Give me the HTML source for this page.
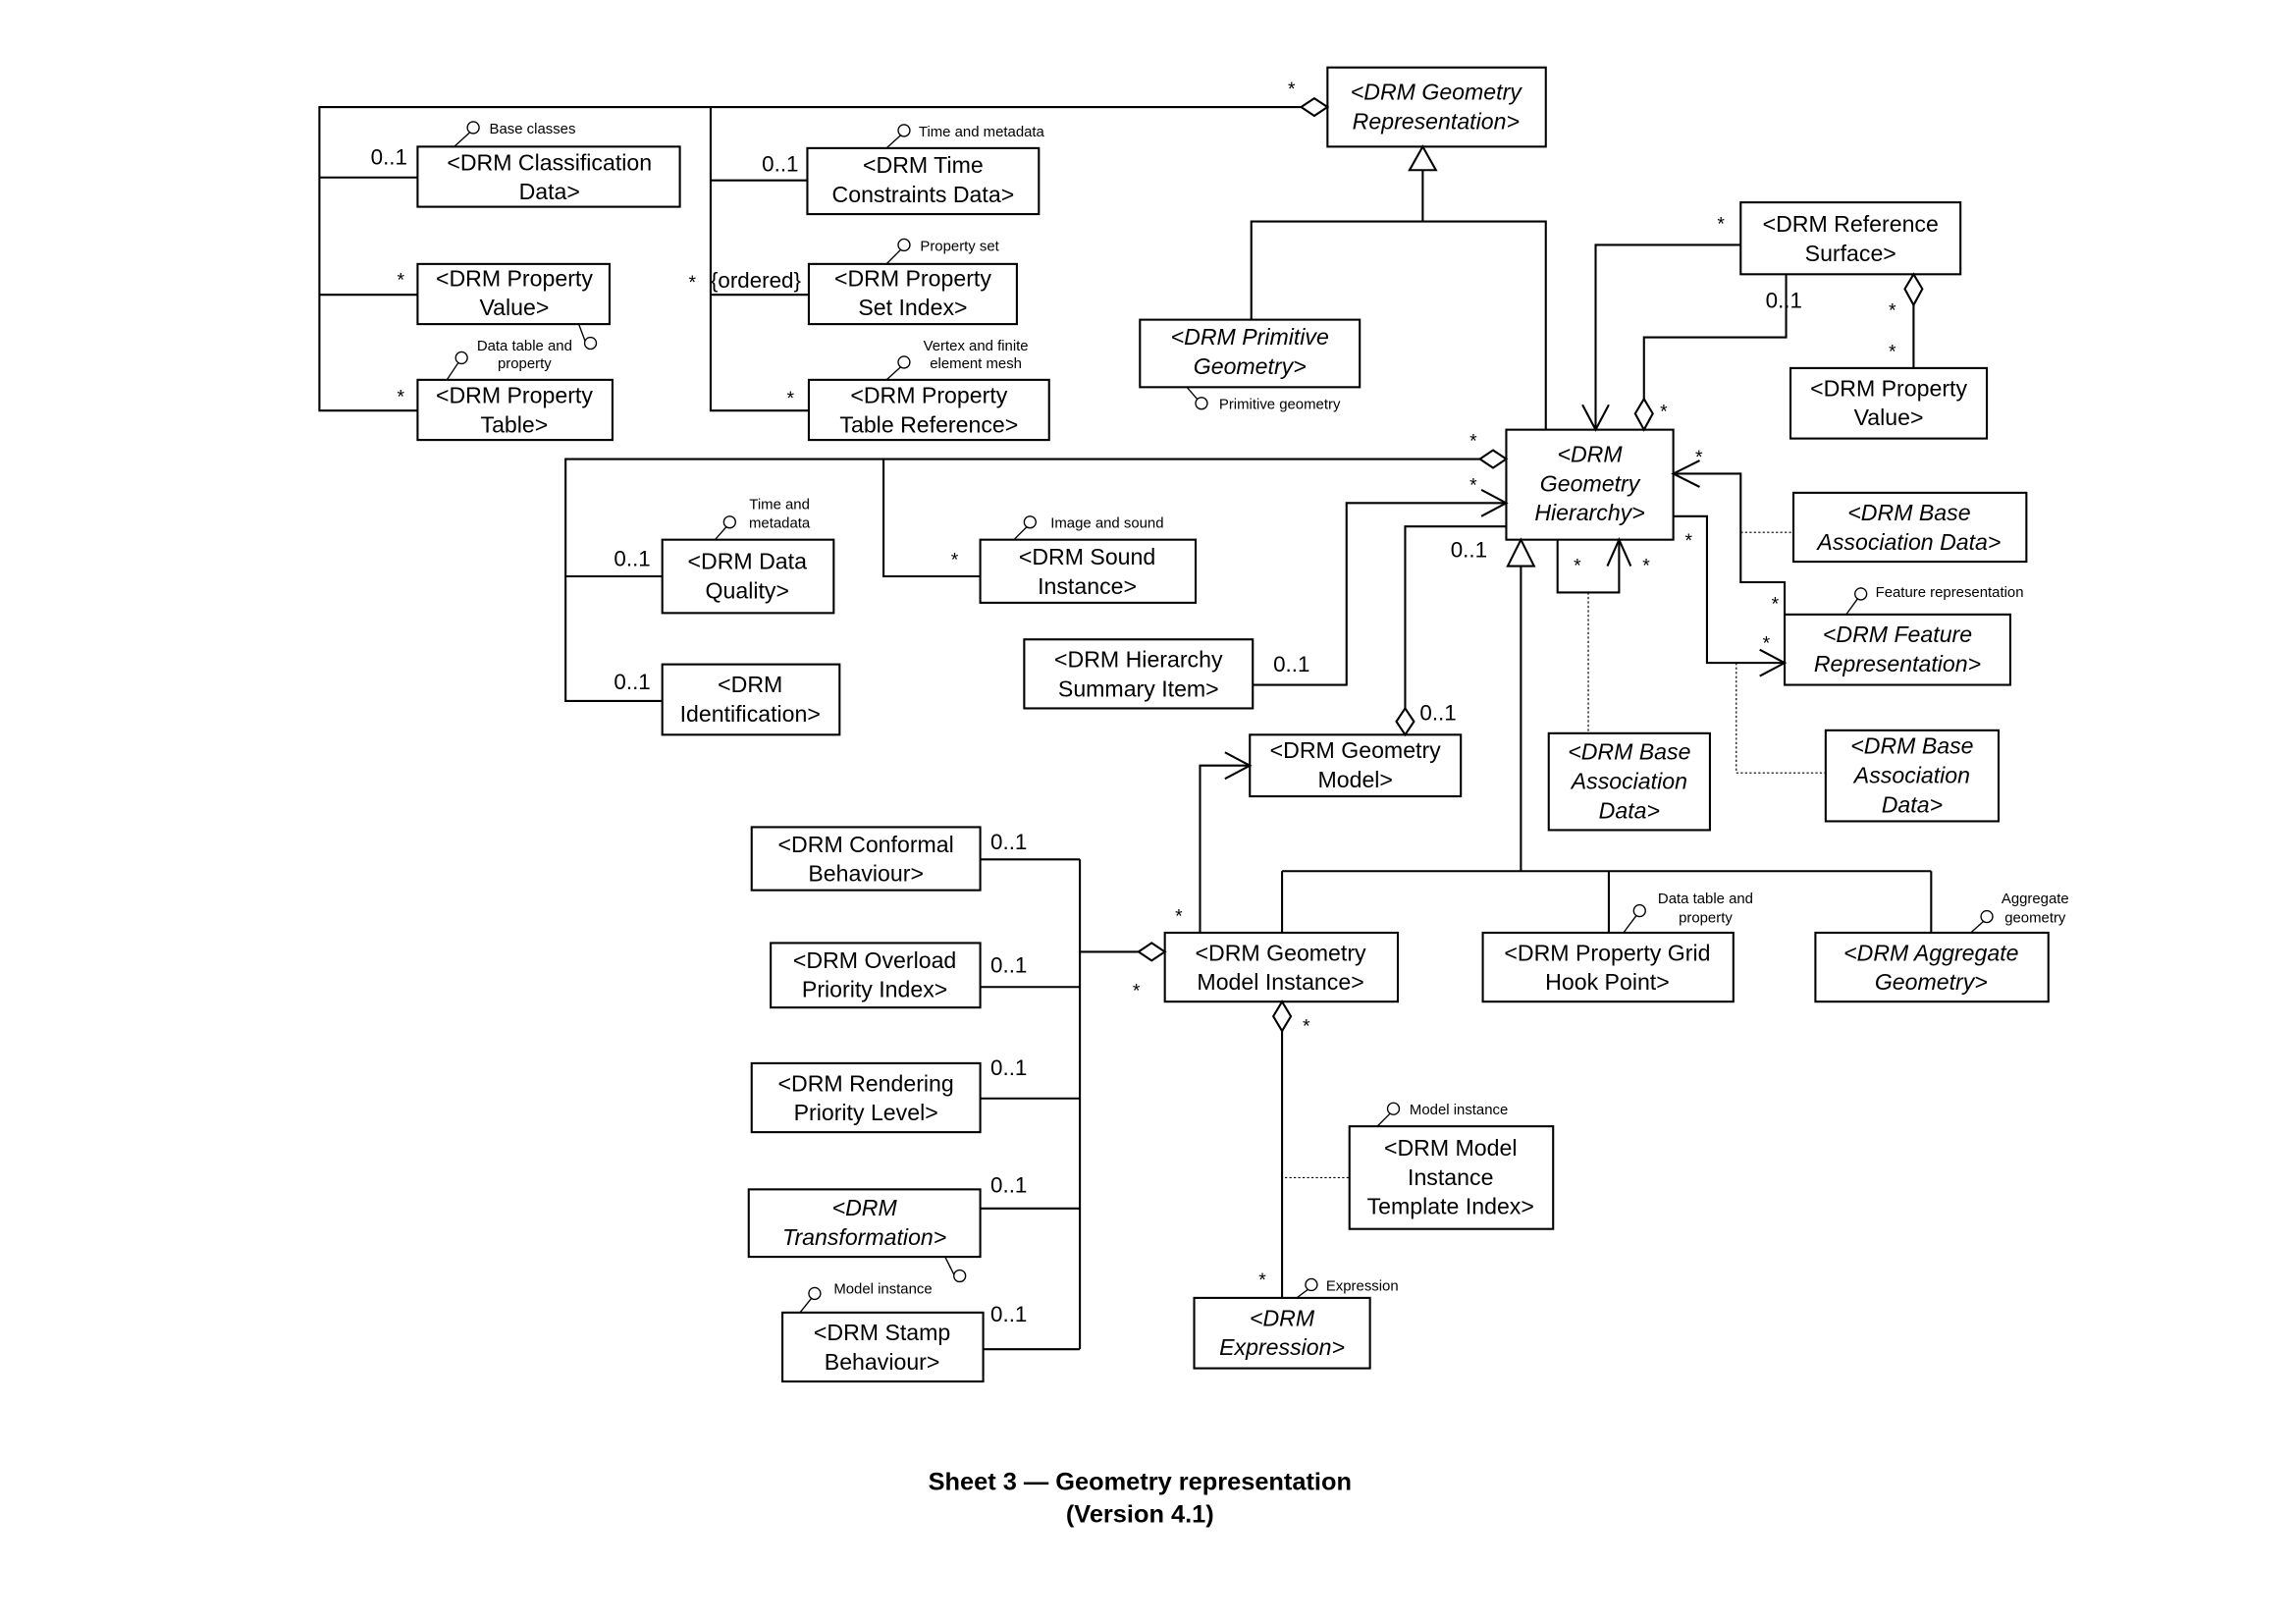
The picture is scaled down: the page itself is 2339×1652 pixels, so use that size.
<!DOCTYPE html>
<html><head><meta charset="utf-8"><style>
html,body{margin:0;padding:0;background:#fff}
svg{display:block}
text{font-family:"Liberation Sans",Arial,sans-serif;fill:#000}
.b{font-size:15.5px;text-anchor:middle}
.i{font-style:italic}
.s{font-size:10px}
.m{font-size:15px}
.ms{font-size:13px}
</style></head><body>
<svg width="2339" height="1652" viewBox="0 0 1567 1106" preserveAspectRatio="none" xmlns="http://www.w3.org/2000/svg">
<g fill="none" stroke="#000" stroke-width="1.4">
<rect x="906" y="46" width="149" height="54"/>
<rect x="285" y="100" width="179" height="41"/>
<rect x="285" y="180" width="131" height="41"/>
<rect x="285" y="259" width="133" height="41"/>
<rect x="551" y="101" width="158" height="45"/>
<rect x="552" y="180" width="142" height="41"/>
<rect x="552" y="259" width="164" height="41"/>
<rect x="778" y="218" width="150" height="46"/>
<rect x="1188" y="138" width="150" height="49"/>
<rect x="1222" y="251" width="134" height="48"/>
<rect x="1028" y="293" width="114" height="75"/>
<rect x="1224" y="336" width="159" height="47"/>
<rect x="1218" y="419" width="154" height="48"/>
<rect x="452" y="368" width="117" height="50"/>
<rect x="452" y="453" width="121" height="48"/>
<rect x="669" y="368" width="147" height="43"/>
<rect x="699" y="436" width="156" height="47"/>
<rect x="853" y="501" width="144" height="42"/>
<rect x="1057" y="500" width="110" height="66"/>
<rect x="1246" y="498" width="118" height="62"/>
<rect x="513" y="564" width="156" height="43"/>
<rect x="526" y="643" width="143" height="44"/>
<rect x="513" y="725" width="156" height="47"/>
<rect x="511" y="811" width="158" height="46"/>
<rect x="534" y="895" width="137" height="47"/>
<rect x="795" y="636" width="159" height="47"/>
<rect x="1012" y="636" width="171" height="47"/>
<rect x="1239" y="636" width="159" height="47"/>
<rect x="921" y="768" width="139" height="70"/>
<rect x="815" y="885" width="120" height="48"/>
<polyline points="888,73 218,73 218,280 285,280"/>
<line x1="218" y1="121" x2="285" y2="121"/>
<line x1="218" y1="201" x2="285" y2="201"/>
<polyline points="485,73 485,280 552,280"/>
<line x1="485" y1="123" x2="551" y2="123"/>
<line x1="485" y1="201" x2="552" y2="201"/>
<polygon points="906,73 897,67 888,73 897,79" fill="#fff"/>
<polygon points="971,100 962,116 980,116" fill="#fff"/>
<line x1="971" y1="116" x2="971" y2="151"/>
<polyline points="854,218 854,151 1055,151 1055,293"/>
<polyline points="1188,167 1089,167 1089,293"/>
<polyline points="1080,276 1089,293 1098,276"/>
<polyline points="1219,187 1219,230 1122,230 1122,272"/>
<polygon points="1122,293 1116,282 1122,272 1128,282" fill="#fff"/>
<polygon points="1306,187 1300,197 1306,208 1312,197" fill="#fff"/>
<line x1="1306" y1="208" x2="1306" y2="251"/>
<polyline points="1010,313 386,313 386,478 452,478"/>
<polygon points="1028,313 1019,307 1010,313 1019,319" fill="#fff"/>
<line x1="386" y1="393" x2="452" y2="393"/>
<polyline points="603,313 603,393 669,393"/>
<polyline points="855,467 919,467 919,343 1028,343"/>
<polyline points="1011,334 1028,343 1011,352"/>
<polyline points="959,483 959,359 1028,359"/>
<polygon points="959,501 953,492 959,483 965,492" fill="#fff"/>
<polygon points="1038,368 1029,386 1047,386" fill="#fff"/>
<polyline points="1038,386 1038,594"/>
<line x1="875" y1="594" x2="1318" y2="594"/>
<line x1="875" y1="594" x2="875" y2="636"/>
<line x1="1098" y1="594" x2="1098" y2="636"/>
<line x1="1318" y1="594" x2="1318" y2="636"/>
<polyline points="1063,368 1063,404 1105,404 1105,368"/>
<polyline points="1097,386 1105,368 1113,386"/>
<polyline points="1218,419 1218,397 1188,397 1188,323 1142,323"/>
<polyline points="1160,314 1142,323 1160,332"/>
<polyline points="1142,352 1165,352 1165,452 1218,452"/>
<polyline points="1201,443 1218,452 1201,461"/>
<polyline points="819,636 819,522 853,522"/>
<polyline points="836,513 853,522 836,531"/>
<polygon points="795,649 786,643 777,649 786,655" fill="#fff"/>
<line x1="737" y1="649" x2="777" y2="649"/>
<line x1="737" y1="586" x2="737" y2="920"/>
<line x1="669" y1="586" x2="737" y2="586"/>
<line x1="669" y1="673" x2="737" y2="673"/>
<line x1="669" y1="749" x2="737" y2="749"/>
<line x1="669" y1="824" x2="737" y2="824"/>
<line x1="671" y1="920" x2="737" y2="920"/>
<polygon points="875,683 869,693 875,703 881,693" fill="#fff"/>
<line x1="875" y1="703" x2="875" y2="885"/>
</g>
<g fill="none" stroke="#000" stroke-width="0.8" stroke-dasharray="1.5,1.5">
<line x1="1084" y1="404" x2="1084" y2="500"/>
<line x1="1188" y1="363" x2="1224" y2="363"/>
<polyline points="1185,452 1185,527 1246,527"/>
<line x1="877" y1="803" x2="921" y2="803"/>
</g>
<g fill="#fff" stroke="#000" stroke-width="0.9">
<line x1="310" y1="100" x2="321" y2="90"/><circle cx="323" cy="87" r="4"/>
<line x1="605" y1="101" x2="615" y2="92"/><circle cx="617" cy="89" r="4"/>
<line x1="605" y1="180" x2="615" y2="170"/><circle cx="617" cy="167" r="4"/>
<line x1="395" y1="221" x2="401" y2="237"/><circle cx="403" cy="234" r="4"/>
<line x1="305" y1="259" x2="313" y2="247"/><circle cx="315" cy="244" r="4"/>
<line x1="605" y1="259" x2="615" y2="250"/><circle cx="617" cy="247" r="4"/>
<line x1="810" y1="264" x2="817" y2="272"/><circle cx="820" cy="275" r="4"/>
<line x1="488" y1="368" x2="496" y2="359"/><circle cx="498" cy="356" r="4"/>
<line x1="692" y1="368" x2="701" y2="359"/><circle cx="703" cy="356" r="4"/>
<line x1="1260" y1="419" x2="1268" y2="408"/><circle cx="1270" cy="405" r="4"/>
<line x1="1108" y1="636" x2="1117" y2="624"/><circle cx="1119" cy="621" r="4"/>
<line x1="1345" y1="636" x2="1354" y2="628"/><circle cx="1356" cy="625" r="4"/>
<line x1="940" y1="768" x2="949" y2="759"/><circle cx="951" cy="756" r="4"/>
<line x1="546" y1="895" x2="554" y2="885"/><circle cx="556" cy="882" r="4"/>
<line x1="645" y1="857" x2="653" y2="873"/><circle cx="655" cy="870" r="4"/>
<line x1="885" y1="885" x2="893" y2="879"/><circle cx="895" cy="876" r="4"/>
</g>
<g class="s">
<text x="334" y="91" class="s">Base classes</text>
<text x="627" y="93" class="s">Time and metadata</text>
<text x="628" y="171" class="s">Property set</text>
<text x="358" y="239" class="s" text-anchor="middle">Data table and</text>
<text x="358" y="251" class="s" text-anchor="middle">property</text>
<text x="666" y="239" class="s" text-anchor="middle">Vertex and finite</text>
<text x="666" y="251" class="s" text-anchor="middle">element mesh</text>
<text x="832" y="279" class="s">Primitive geometry</text>
<text x="532" y="347" class="s" text-anchor="middle">Time and</text>
<text x="532" y="360" class="s" text-anchor="middle">metadata</text>
<text x="717" y="360" class="s">Image and sound</text>
<text x="1280" y="407" class="s">Feature representation</text>
<text x="1164" y="616" class="s" text-anchor="middle">Data table and</text>
<text x="1164" y="629" class="s" text-anchor="middle">property</text>
<text x="1389" y="616" class="s" text-anchor="middle">Aggregate</text>
<text x="1389" y="629" class="s" text-anchor="middle">geometry</text>
<text x="962" y="760" class="s">Model instance</text>
<text x="569" y="882" class="s">Model instance</text>
<text x="905" y="880" class="s">Expression</text>
</g>
<text class="b i" x="980" y="68">&lt;DRM Geometry</text><text class="b i" x="980" y="88">Representation&gt;</text>
<text class="b" x="375" y="116">&lt;DRM Classification</text><text class="b" x="375" y="136">Data&gt;</text>
<text class="b" x="351" y="195">&lt;DRM Property</text><text class="b" x="351" y="215">Value&gt;</text>
<text class="b" x="351" y="275">&lt;DRM Property</text><text class="b" x="351" y="295">Table&gt;</text>
<text class="b" x="630" y="118">&lt;DRM Time</text><text class="b" x="630" y="138">Constraints Data&gt;</text>
<text class="b" x="623" y="195">&lt;DRM Property</text><text class="b" x="623" y="215">Set Index&gt;</text>
<text class="b" x="634" y="275">&lt;DRM Property</text><text class="b" x="634" y="295">Table Reference&gt;</text>
<text class="b i" x="853" y="235">&lt;DRM Primitive</text><text class="b i" x="853" y="255">Geometry&gt;</text>
<text class="b" x="1263" y="158">&lt;DRM Reference</text><text class="b" x="1263" y="178">Surface&gt;</text>
<text class="b" x="1289" y="270">&lt;DRM Property</text><text class="b" x="1289" y="290">Value&gt;</text>
<text class="b i" x="1085" y="315">&lt;DRM</text><text class="b i" x="1085" y="335">Geometry</text><text class="b i" x="1085" y="355">Hierarchy&gt;</text>
<text class="b i" x="1303" y="355">&lt;DRM Base</text><text class="b i" x="1303" y="375">Association Data&gt;</text>
<text class="b i" x="1295" y="438">&lt;DRM Feature</text><text class="b i" x="1295" y="458">Representation&gt;</text>
<text class="b" x="510" y="388">&lt;DRM Data</text><text class="b" x="510" y="408">Quality&gt;</text>
<text class="b" x="512" y="472">&lt;DRM</text><text class="b" x="512" y="492">Identification&gt;</text>
<text class="b" x="742" y="385">&lt;DRM Sound</text><text class="b" x="742" y="405">Instance&gt;</text>
<text class="b" x="777" y="455">&lt;DRM Hierarchy</text><text class="b" x="777" y="475">Summary Item&gt;</text>
<text class="b" x="925" y="517">&lt;DRM Geometry</text><text class="b" x="925" y="537">Model&gt;</text>
<text class="b i" x="1112" y="518">&lt;DRM Base</text><text class="b i" x="1112" y="538">Association</text><text class="b i" x="1112" y="558">Data&gt;</text>
<text class="b i" x="1305" y="514">&lt;DRM Base</text><text class="b i" x="1305" y="534">Association</text><text class="b i" x="1305" y="554">Data&gt;</text>
<text class="b" x="591" y="581">&lt;DRM Conformal</text><text class="b" x="591" y="601">Behaviour&gt;</text>
<text class="b" x="597" y="660">&lt;DRM Overload</text><text class="b" x="597" y="680">Priority Index&gt;</text>
<text class="b" x="591" y="744">&lt;DRM Rendering</text><text class="b" x="591" y="764">Priority Level&gt;</text>
<text class="b i" x="590" y="829">&lt;DRM</text><text class="b i" x="590" y="849">Transformation&gt;</text>
<text class="b" x="602" y="914">&lt;DRM Stamp</text><text class="b" x="602" y="934">Behaviour&gt;</text>
<text class="b" x="874" y="655">&lt;DRM Geometry</text><text class="b" x="874" y="675">Model Instance&gt;</text>
<text class="b" x="1097" y="655">&lt;DRM Property Grid</text><text class="b" x="1097" y="675">Hook Point&gt;</text>
<text class="b i" x="1318" y="655">&lt;DRM Aggregate</text><text class="b i" x="1318" y="675">Geometry&gt;</text>
<text class="b" x="990" y="788">&lt;DRM Model</text><text class="b" x="990" y="808">Instance</text><text class="b" x="990" y="828">Template Index&gt;</text>
<text class="b i" x="875" y="904">&lt;DRM</text><text class="b i" x="875" y="924">Expression&gt;</text>
<g class="m">
<text x="253" y="112">0..1</text>
<text x="271" y="195" class="ms">*</text>
<text x="271" y="275" class="ms">*</text>
<text x="520" y="117">0..1</text>
<text x="470" y="197" class="ms">*</text>
<text x="485" y="196">{ordered}</text>
<text x="537" y="276" class="ms">*</text>
<text x="879" y="65" class="ms">*</text>
<text x="1172" y="157" class="ms">*</text>
<text x="1205" y="210">0..1</text>
<text x="1289" y="216" class="ms">*</text>
<text x="1289" y="244" class="ms">*</text>
<text x="1133" y="285" class="ms">*</text>
<text x="1003" y="305" class="ms">*</text>
<text x="1003" y="335" class="ms">*</text>
<text x="1157" y="316" class="ms">*</text>
<text x="990" y="380">0..1</text>
<text x="1074" y="390" class="ms">*</text>
<text x="1121" y="390" class="ms">*</text>
<text x="1150" y="373" class="ms">*</text>
<text x="1209" y="416" class="ms">*</text>
<text x="1203" y="443" class="ms">*</text>
<text x="419" y="386">0..1</text>
<text x="419" y="470">0..1</text>
<text x="649" y="386" class="ms">*</text>
<text x="869" y="458">0..1</text>
<text x="969" y="491">0..1</text>
<text x="802" y="629" class="ms">*</text>
<text x="773" y="680" class="ms">*</text>
<text x="889" y="704" class="ms">*</text>
<text x="859" y="877" class="ms">*</text>
<text x="676" y="579">0..1</text>
<text x="676" y="663">0..1</text>
<text x="676" y="733">0..1</text>
<text x="676" y="813">0..1</text>
<text x="676" y="901">0..1</text>
</g>
<text x="778" y="1016" style="font-size:17px;font-weight:bold" text-anchor="middle">Sheet 3 — Geometry representation</text>
<text x="778" y="1038" style="font-size:17px;font-weight:bold" text-anchor="middle">(Version 4.1)</text>
</svg>
</body></html>
